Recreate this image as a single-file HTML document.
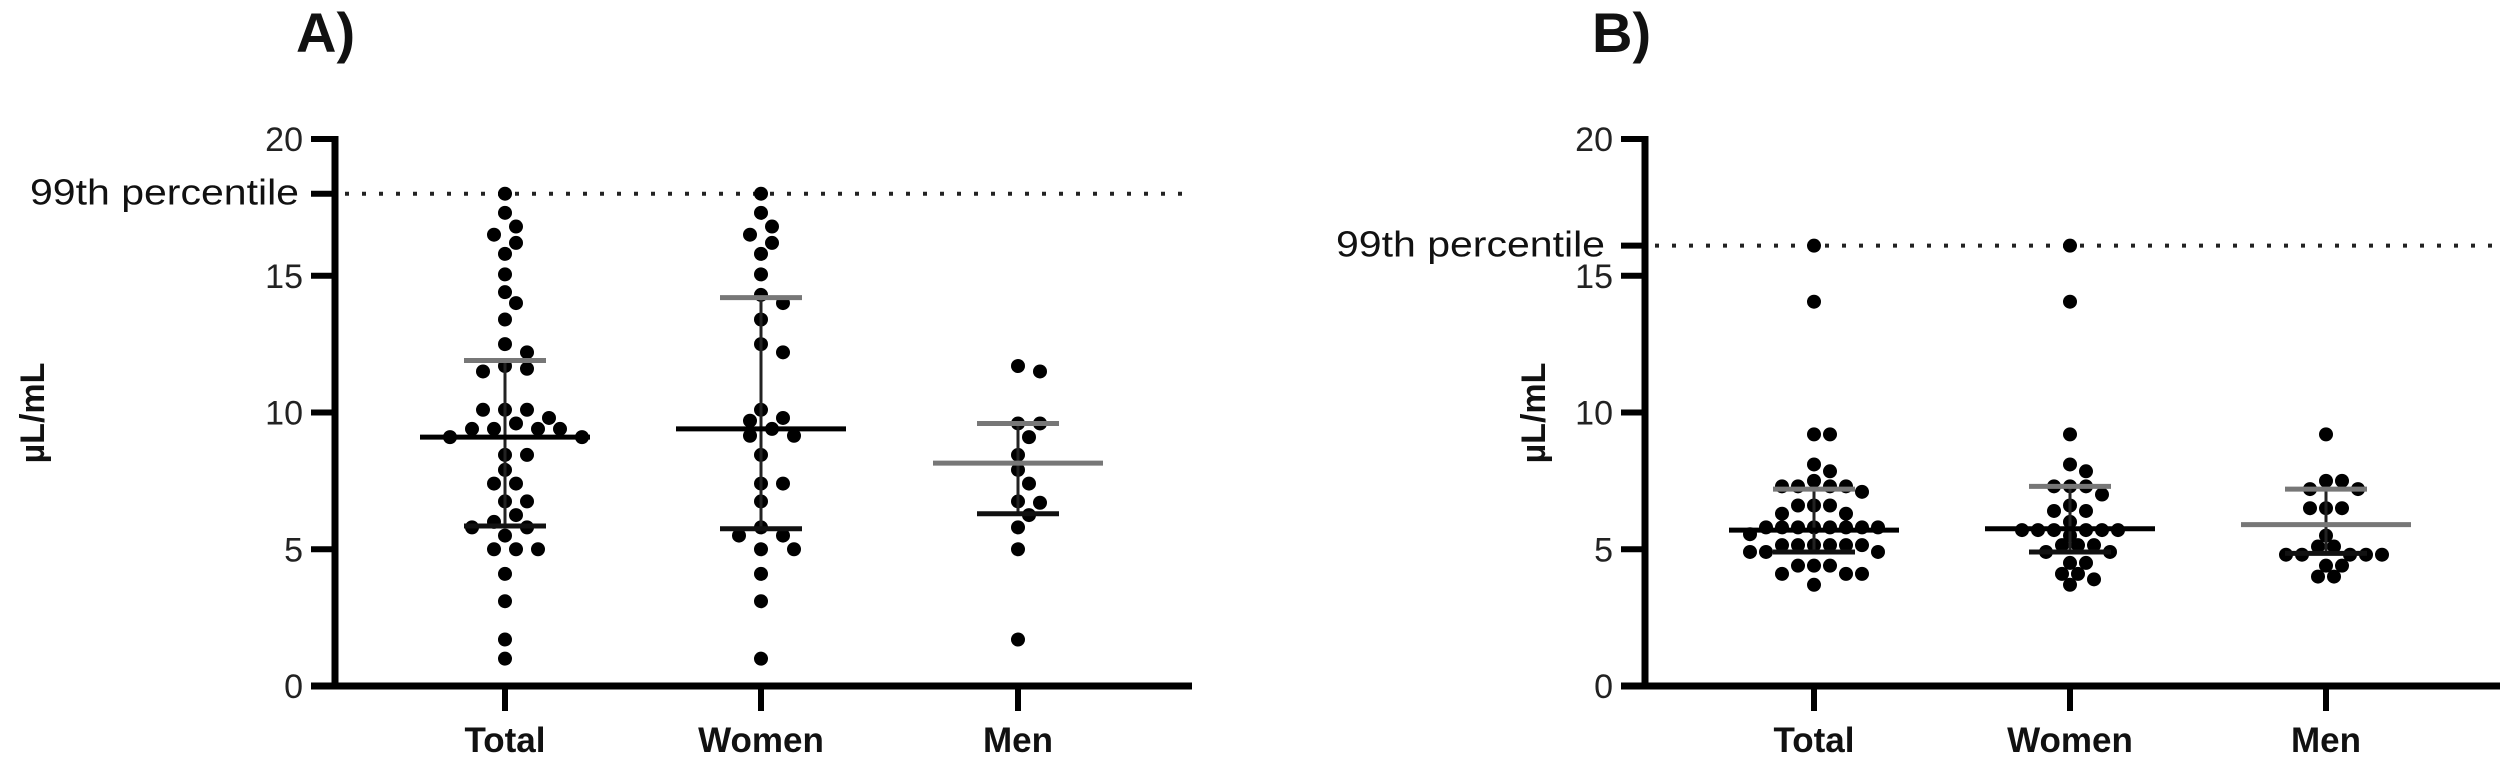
<!DOCTYPE html>
<html><head><meta charset="utf-8"><style>
html,body{margin:0;padding:0;background:#fff;width:2500px;height:763px;overflow:hidden}
text{font-family:"Liberation Sans",Arial,sans-serif}
</style></head><body>
<svg id="chart" width="2500" height="763" viewBox="0 0 2500 763" xmlns="http://www.w3.org/2000/svg"></svg>
<script>
// ---- data ----
const categories = ["Total", "Women", "Men"];
const yTicks = [0, 5, 10, 15, 20];
const percentileA = 18.0;
const percentileB = 16.1;
const aTotal = [18.0,17.3,16.8,16.5,16.2,15.8,15.05,14.4,14.0,13.4,12.5,12.2,11.7,11.6,11.5,10.1,10.1,10.1,9.8,9.6,9.4,9.4,9.4,9.4,9.1,9.1,8.45,8.45,7.9,7.4,7.4,6.75,6.75,6.25,6.0,5.8,5.8,5.5,5.0,5.0,5.0,4.1,3.1,1.7,1.0];
const aWomen = [18.0,17.3,16.8,16.5,16.2,15.8,15.05,14.3,14.0,13.4,12.5,12.2,10.1,9.8,9.7,9.4,9.15,9.15,8.45,7.4,7.4,6.75,5.8,5.5,5.5,5.0,5.0,4.1,3.1,1.0];
const aMen = [11.7,11.5,9.6,9.6,9.1,8.45,7.9,7.4,6.75,6.7,6.25,5.8,5.0,1.7];
const aMedian = [9.1, 9.4, 8.15];
const aQ1 = [5.85, 5.75, 6.3];
const aQ3 = [11.9, 14.2, 9.6];
const bTotal = [16.1,14.05,9.2,9.2,8.1,7.85,7.5,7.3,7.3,7.3,7.3,7.1,6.6,6.6,6.6,6.3,6.3,5.8,5.8,5.8,5.8,5.8,5.8,5.8,5.8,5.55,5.15,5.15,5.15,5.15,5.15,5.15,4.9,4.9,4.9,4.4,4.4,4.4,4.1,4.1,4.1,3.7];
const bWomen = [16.1,14.05,9.2,8.1,7.85,7.3,7.3,7.3,7.0,6.6,6.4,6.4,6.0,5.7,5.7,5.7,5.7,5.7,5.7,5.5,5.15,5.15,5.15,4.9,4.9,4.5,4.5,4.1,4.1,3.9,3.7];
const bMen = [9.2,7.5,7.5,7.2,7.2,6.5,6.5,6.5,5.5,5.1,5.1,4.8,4.8,4.8,4.8,4.8,4.4,4.4,4.0,4.0];
const bMedian = [5.7, 5.75, 5.9];
const bQ1 = [4.9, 4.9, 4.85];
const bQ3 = [7.2, 7.3, 7.2];

const NS = "http://www.w3.org/2000/svg";
const svg = document.getElementById("chart");
function mk(tag, attrs, parent) {
  const e = document.createElementNS(NS, tag);
  for (const k in attrs) e.setAttribute(k, attrs[k]);
  (parent || svg).appendChild(e);
  return e;
}
const Y0 = 686, YPU = 27.35;
function yScale(v) { return Y0 - v * YPU; }

function swarm(values, cx, D, step) {
  const sorted = values.slice().sort((a, b) => b - a);
  const placed = [];
  sorted.forEach(v => {
    const y = yScale(v);
    let best = null;
    for (let k = 0; k < 60 && best === null; k++) {
      for (const off of (k === 0 ? [0] : [k * step, -k * step])) {
        const x = cx + off;
        if (placed.every(p => Math.hypot(p.x - x, p.y - y) >= D)) { best = x; break; }
      }
    }
    placed.push({ x: best, y: y, v: v });
  });
  return placed;
}

function panel(p) {
  const g = mk("g", {});
  
  
  const lab = mk("text", { x: p.labelX, y: 52, "font-size": 56, "font-weight": "bold", fill: "#111" }, g);
  lab.textContent = p.label;
  
  
  const yt = mk("text", { x: 0, y: 0, "font-size": 34, "font-weight": "bold", fill: "#111", "text-anchor": "middle", transform: `translate(${p.yTitleX},413) rotate(-90)` }, g);
  yt.textContent = "µL/mL";
  
  
  const py = yScale(p.pct);
  const dl = mk("line", { x1: p.ax + 10, x2: p.xEnd, y1: py, y2: py, stroke: "#222", "stroke-width": 4, "stroke-dasharray": "4 13" }, g);
  
  
  const pl = mk("text", { x: p.pctLabelX, y: py + 11, "font-size": 36, fill: "#111", textLength: 269, lengthAdjust: "spacingAndGlyphs" }, g);
  pl.textContent = "99th percentile";
  
  
  const pt = mk("line", { x1: p.ax - 24, x2: p.ax, y1: py, y2: py, stroke: "#000", "stroke-width": 6 }, g);
  
  
  const ya = mk("line", { x1: p.ax, x2: p.ax, y1: yScale(20) - 3, y2: Y0 + 3, stroke: "#000", "stroke-width": 7 }, g);
  
  
  const xa = mk("line", { x1: p.ax - 24, x2: p.xEnd, y1: Y0, y2: Y0, stroke: "#000", "stroke-width": 7 }, g);
  
  
  yTicks.forEach(t => {
    const y = yScale(t);
    const tl = mk("line", { x1: p.ax - 24, x2: p.ax, y1: y, y2: y, stroke: "#000", "stroke-width": 6 }, g);
    
    
    const tx = mk("text", { x: p.ax - 32, y: y + 12, "font-size": 34, fill: "#222", "text-anchor": "end" }, g);
    tx.textContent = t;
    
    
  });
  categories.forEach((c, i) => {
    const cx = p.cx[i];
    const tl = mk("line", { x1: cx, x2: cx, y1: Y0, y2: Y0 + 25, stroke: "#000", "stroke-width": 6 }, g);
    
    
    const tx = mk("text", { x: cx, y: 752, "font-size": 35, "font-weight": "bold", fill: "#111", "text-anchor": "middle" }, g);
    tx.textContent = c;
    
    
    swarm(p.series[i], cx, p.D, p.step).forEach(d => {
      const ci = mk("circle", { cx: d.x, cy: d.y, r: 7, fill: "#000" }, g);
      
      
    });
    const col = c === "Men" ? "#777" : "#000";
    const wh = mk("line", { x1: cx, x2: cx, y1: yScale(p.q1[i]), y2: yScale(p.q3[i]), stroke: "#222", "stroke-width": 3 }, g);
    
    
    const q3 = mk("line", { x1: cx - 41, x2: cx + 41, y1: yScale(p.q3[i]), y2: yScale(p.q3[i]), stroke: "#777", "stroke-width": 5 }, g);
    
    
    const q1 = mk("line", { x1: cx - 41, x2: cx + 41, y1: yScale(p.q1[i]), y2: yScale(p.q1[i]), stroke: "#111", "stroke-width": 5 }, g);
    
    
    const md = mk("line", { x1: cx - 85, x2: cx + 85, y1: yScale(p.med[i]), y2: yScale(p.med[i]), stroke: col, "stroke-width": 5 }, g);
    
    
  });
}

panel({ name: "panel-a", label: "A)", labelX: 296, yTitleX: 44, ax: 335, xEnd: 1192,
  cx: [505, 761, 1018], pct: percentileA, pctLabelX: 30, D: 15, step: 11,
  series: [aTotal, aWomen, aMen], med: aMedian, q1: aQ1, q3: aQ3 });
panel({ name: "panel-b", label: "B)", labelX: 1592, yTitleX: 1545, ax: 1645, xEnd: 2500,
  cx: [1814, 2070, 2326], pct: percentileB, pctLabelX: 1336, D: 12, step: 8,
  series: [bTotal, bWomen, bMen], med: bMedian, q1: bQ1, q3: bQ3 });
</script>
</body></html>
